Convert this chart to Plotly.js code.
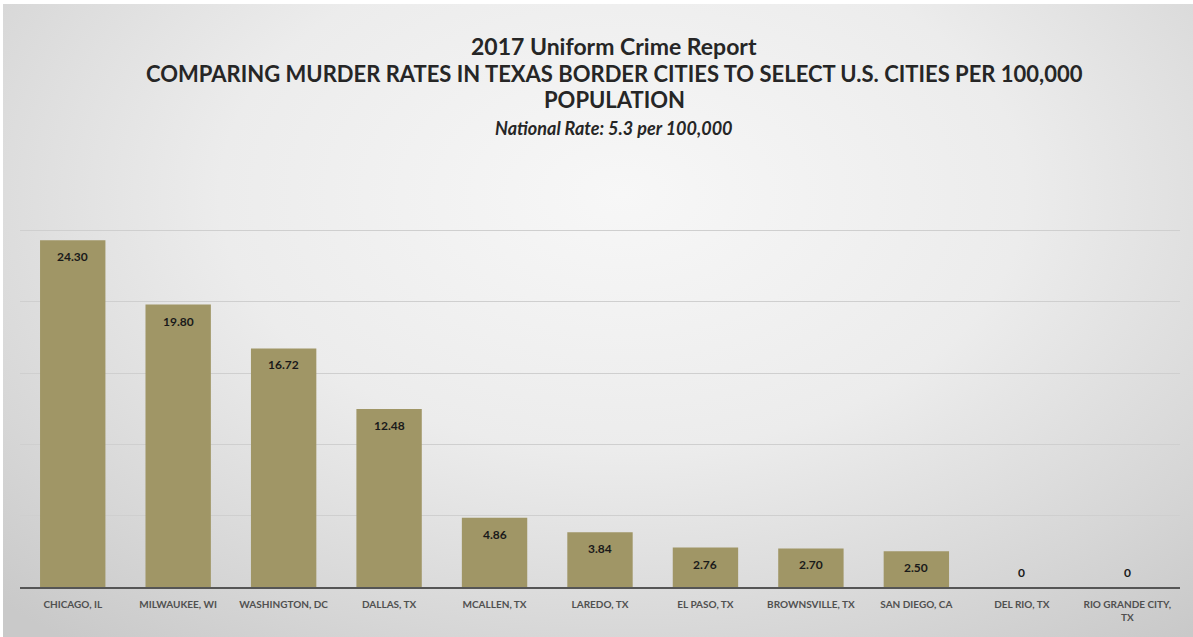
<!DOCTYPE html>
<html>
<head>
<meta charset="utf-8">
<script src="https://cdn.plot.ly/plotly-3.0.1.min.js"></script>
<style>
  html, body { margin: 0; padding: 0; }
  body {
    width: 1193px; height: 637px; overflow: hidden;
    background: #ffffff;
  }
  #bg {
    position: absolute; left: 3px; top: 4px; width: 1190px; height: 633px;
    background: radial-gradient(ellipse 75% 90% at 52% 30%, #f7f7f7 0%, #ececec 45%, #d6d6d6 80%, #c9c9c9 100%);
  }
  #chart { position: absolute; left: 0; top: 0; width: 1193px; height: 637px; }
</style>
</head>
<body>
<div id="bg"></div>
<div id="chart"></div>
<script>
// Data
const cities = ["CHICAGO, IL", "MILWAUKEE, WI", "WASHINGTON, DC", "DALLAS, TX", "MCALLEN, TX",
                "LAREDO, TX", "EL PASO, TX", "BROWNSVILLE, TX", "SAN DIEGO, CA", "DEL RIO, TX",
                "RIO GRANDE CITY,<br>TX"];
const murderRates = [24.30, 19.80, 16.72, 12.48, 4.86, 3.84, 2.76, 2.70, 2.50, 0, 0];
const rateLabels = ["24.30", "19.80", "16.72", "12.48", "4.86", "3.84", "2.76", "2.70", "2.50", "0", "0"];

const titleLine1 = "2017 Uniform Crime Report";
const titleLine2 = "COMPARING MURDER RATES IN TEXAS BORDER CITIES TO SELECT U.S. CITIES PER 100,000";
const titleLine3 = "POPULATION";
const subTitle = "National Rate: 5.3 per 100,000";

const FONT = "Lato, 'Open Sans', sans-serif";

const trace = {
  type: "bar",
  x: cities,
  y: murderRates,
  marker: { color: "#a09666", line: { width: 0 } },
  hoverinfo: "x+y"
};

const annotations = [];
cities.forEach((c, i) => {
  const v = murderRates[i];
  annotations.push({
    x: c, y: v, xref: "x", yref: "y",
    text: "<b>" + rateLabels[i] + "</b>",
    showarrow: false,
    yanchor: v > 0 ? "top" : "bottom",
    yshift: v > 0 ? -7 : 5,
    font: { family: FONT, size: 12, color: "#1a1a1a" }
  });
});

const titles = [
  { text: "<b>" + titleLine1 + "</b>", y: 46, size: 23 },
  { text: "<b>" + titleLine2 + "</b>", y: 73, size: 22 },
  { text: "<b>" + titleLine3 + "</b>", y: 99, size: 22 },
  { text: "<b><i>" + subTitle + "</i></b>", y: 128, size: 18 }
];
titles.forEach(t => {
  annotations.push({
    xref: "paper", yref: "paper", x: (614 - 20) / 1160, xanchor: "center",
    y: 1 + (159 - t.y) / 428, yanchor: "middle",
    text: t.text, showarrow: false,
    font: { family: FONT, size: t.size, color: "#262626" }
  });
});

const layout = {
  width: 1193, height: 637,
  margin: { l: 20, r: 13, t: 159, b: 50 },
  paper_bgcolor: "rgba(0,0,0,0)",
  plot_bgcolor: "rgba(0,0,0,0)",
  bargap: 0.38,
  showlegend: false,
  xaxis: {
    type: "category",
    showgrid: false,
    showline: true, linecolor: "#555555", linewidth: 2,
    ticks: "", ticklen: 0,
    tickangle: 0,
    tickmode: "array",
    tickvals: cities,
    ticktext: cities.map(c => "<b>" + c + "</b>"),
    ticklabelstandoff: 7,
    tickfont: { family: FONT, size: 10, color: "#505050" },
    automargin: false
  },
  yaxis: {
    range: [0, 30],
    dtick: 5,
    showticklabels: false,
    showgrid: true, gridcolor: "#cfcfcf", gridwidth: 1,
    zeroline: false,
    ticks: ""
  },
  annotations: annotations,
  font: { family: FONT }
};

Plotly.newPlot("chart", [trace], layout, { displayModeBar: false, staticPlot: true });
</script>
</body>
</html>
